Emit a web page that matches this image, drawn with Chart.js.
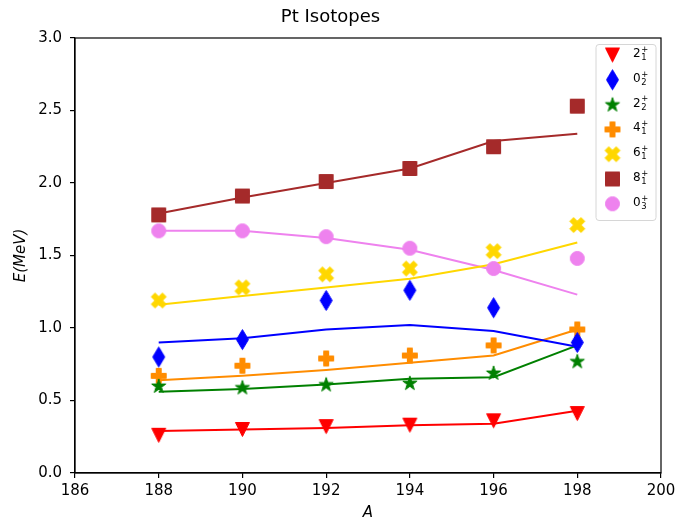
<!DOCTYPE html>
<html>
<head>
<meta charset="utf-8">
<script src="https://cdn.jsdelivr.net/npm/chart.js@4/dist/chart.umd.min.js"></script>
<style>
    body { margin: 0; background: #fff; }
    #wrap { width: 680px; height: 522px; }
</style>
</head>
<body>
<div id="wrap"><canvas id="ptChart" width="680" height="522"></canvas></div>
<script>

// Mass numbers of the Pt isotopes
var massNumbers = [188, 190, 192, 194, 196, 198];

// Experimental levels (markers), MeV
var exp21 = [0.26, 0.30, 0.32, 0.33, 0.36, 0.41];
var exp02 = [0.80, 0.92, 1.19, 1.26, 1.14, 0.90];
var exp22 = [0.60, 0.59, 0.61, 0.62, 0.69, 0.77];
var exp41 = [0.67, 0.74, 0.79, 0.81, 0.88, 0.99];
var exp61 = [1.19, 1.28, 1.37, 1.41, 1.53, 1.71];
var exp81 = [1.78, 1.91, 2.01, 2.10, 2.25, 2.53];
var exp03 = [1.67, 1.67, 1.63, 1.55, 1.41, 1.48];

// Calculated levels (lines), MeV
var calc21 = [0.29, 0.30, 0.31, 0.33, 0.34, 0.43];
var calc02 = [0.90, 0.93, 0.99, 1.02, 0.98, 0.87];
var calc22 = [0.56, 0.58, 0.61, 0.65, 0.66, 0.88];
var calc41 = [0.64, 0.67, 0.71, 0.76, 0.81, 0.99];
var calc61 = [1.16, 1.22, 1.28, 1.34, 1.44, 1.59];
var calc81 = [1.79, 1.90, 2.00, 2.10, 2.29, 2.34];
var calc03 = [1.67, 1.67, 1.62, 1.54, 1.40, 1.23];

// State labels: spin, index, parity
var stateSpins = ['2', '0', '2', '4', '6', '8', '0'];
var stateIndex = ['1', '2', '2', '1', '1', '1', '3'];
var stateParity = ['+', '+', '+', '+', '+', '+', '+'];

var xTicks = [186, 188, 190, 192, 194, 196, 198, 200];
var yTicks = [0.0, 0.5, 1.0, 1.5, 2.0, 2.5, 3.0];

var FONT = "'DejaVu Sans', sans-serif";

// Matplotlib-like filled markers drawn on small canvases
var makeMarker = function (shape, color, w, h) {
    var c = document.createElement('canvas');
    c.width = Math.ceil(w) + 2;
    c.height = Math.ceil(h) + 2;
    var ctx = c.getContext('2d');
    ctx.translate(c.width / 2, c.height / 2);
    ctx.fillStyle = color;
    ctx.strokeStyle = color;
    ctx.lineWidth = 1;
    ctx.lineJoin = 'miter';
    var rx = (w - 1) / 2, ry = (h - 1) / 2;
    var pts = [], i;
    ctx.beginPath();
    if (shape === 'circle') {
        ctx.arc(0, 0, rx, 0, Math.PI * 2);
    } else if (shape === 'square') {
        ctx.rect(-rx, -ry, 2 * rx, 2 * ry);
    } else {
        if (shape === 'triangleDown') {
            pts = [[-1, -1], [1, -1], [0, 1]];
        } else if (shape === 'thinDiamond') {
            pts = [[0, -1], [1, 0], [0, 1], [-1, 0]];
        } else if (shape === 'plusFilled') {
            pts = [[-1, -3], [1, -3], [1, -1], [3, -1], [3, 1], [1, 1], [1, 3], [-1, 3], [-1, 1], [-3, 1], [-3, -1], [-1, -1]];
            pts = pts.map(function (p) { return [p[0] / 3, p[1] / 3]; });
        } else if (shape === 'xFilled') {
            pts = [[-1, -2], [0, -1], [1, -2], [2, -1], [1, 0], [2, 1], [1, 2], [0, 1], [-1, 2], [-2, 1], [-1, 0], [-2, -1]];
            pts = pts.map(function (p) { return [p[0] / 2, p[1] / 2]; });
        } else if (shape === 'star') {
            for (i = 0; i < 10; i++) {
                var r = (i % 2 === 0) ? 1 : 0.381966;
                var a = -Math.PI / 2 + i * Math.PI / 5;
                pts.push([r * Math.cos(a), r * Math.sin(a) + 0.05]);
            }
        }
        pts.forEach(function (p, k) {
            if (k === 0) { ctx.moveTo(p[0] * rx, p[1] * ry); } else { ctx.lineTo(p[0] * rx, p[1] * ry); }
        });
        ctx.closePath();
    }
    ctx.fill();
    ctx.stroke();
    return c;
};

var colors = ['#ff0000', '#0000ff', '#008000', '#ff8c00', '#ffd700', '#a52a2a', '#ee82ee'];
var markers = [
    makeMarker('triangleDown', colors[0], 15, 15),
    makeMarker('thinDiamond', colors[1], 13, 21),
    makeMarker('star', colors[2], 16, 16),
    makeMarker('plusFilled', colors[3], 16, 16),
    makeMarker('xFilled', colors[4], 16, 16),
    makeMarker('square', colors[5], 15, 15),
    makeMarker('circle', colors[6], 15, 15)
];

var expSeries = [exp21, exp02, exp22, exp41, exp61, exp81, exp03];
var calcSeries = [calc21, calc02, calc22, calc41, calc61, calc81, calc03];

var toPoints = function (ys) {
    return massNumbers.map(function (a, i) { return {x: a, y: ys[i]}; });
};

var datasets = [];
expSeries.forEach(function (ys, i) {
    datasets.push({
        label: stateSpins[i] + '₁₂₃'.charAt(+stateIndex[i] - 1) + '⁺',
        data: toPoints(ys),
        showLine: false,
        pointStyle: markers[i],
        pointRadius: 8,
        pointHoverRadius: 8,
        backgroundColor: colors[i],
        borderColor: colors[i],
        order: 1
    });
});
calcSeries.forEach(function (ys, i) {
    datasets.push({
        label: 'calc ' + stateSpins[i],
        data: toPoints(ys),
        borderColor: colors[i],
        borderWidth: 2,
        pointRadius: 0,
        fill: false,
        tension: 0,
        order: 2
    });
});

// Full box around the plot area, like matplotlib spines
var framePlugin = {
    id: 'frame',
    afterDatasetsDraw: function (chart) {
        var a = chart.chartArea, ctx = chart.ctx;
        ctx.save();
        ctx.strokeStyle = '#000';
        ctx.lineWidth = 1.2;
        ctx.strokeRect(a.left, a.top, a.right - a.left, a.bottom - a.top);
        ctx.restore();
    }
};

// Legend in the upper right of the axes with stacked sub/superscripts
var insetLegend = {
    id: 'insetLegend',
    afterDraw: function (chart) {
        var ctx = chart.ctx;
        var a = chart.chartArea;
        var boxW = 60, boxH = 176;
        var bx = a.right - 5 - boxW, by = a.top + 6.5;
        ctx.save();
        ctx.beginPath();
        ctx.roundRect(bx, by, boxW, boxH, 3);
        ctx.fillStyle = 'rgba(255,255,255,0.8)';
        ctx.fill();
        ctx.strokeStyle = '#d6d6d6';
        ctx.lineWidth = 1;
        ctx.stroke();
        for (var i = 0; i < stateSpins.length; i++) {
            var rowY = by + 10.5 + i * 24.8;
            var mk = markers[i];
            ctx.drawImage(mk, bx + 16.5 - mk.width / 2, rowY - mk.height / 2);
            var tx = bx + 37;
            ctx.fillStyle = '#000';
            ctx.textAlign = 'left';
            ctx.textBaseline = 'alphabetic';
            ctx.font = '12px ' + FONT;
            ctx.fillText(stateSpins[i], tx, rowY + 2);
            var sx = tx + ctx.measureText(stateSpins[i]).width + 0.5;
            ctx.font = '8.4px ' + FONT;
            ctx.fillText(stateParity[i], sx, rowY - 3.2);
            ctx.fillText(stateIndex[i], sx, rowY + 5);
        }
        ctx.restore();
    }
};

var ctx = document.getElementById('ptChart').getContext('2d');
var ptChart = new Chart(ctx, {
    type: 'line',
    data: { datasets: datasets },
    options: {
        responsive: false,
        animation: false,
        events: [],
        layout: { padding: { left: 0, right: 19, top: 0, bottom: 0 } },
        plugins: {
            legend: { display: false },
            tooltip: { enabled: false },
            title: {
                display: true,
                text: 'Pt Isotopes',
                color: '#000',
                font: { family: FONT, size: 18, weight: 'normal', lineHeight: 1.2 },
                padding: { top: 7, bottom: 9.4 }
            }
        },
        scales: {
            x: {
                type: 'linear',
                min: 186,
                max: 200,
                afterFit: function (scale) { scale.height = 49; },
                afterBuildTicks: function (scale) {
                    scale.ticks = xTicks.map(function (v) { return {value: v}; });
                },
                ticks: {
                    color: '#000',
                    font: { family: FONT, size: 15 },
                    padding: 4,
                    maxRotation: 0,
                    callback: function (v) { return String(v); }
                },
                grid: { drawOnChartArea: false, drawTicks: true, tickLength: 5, color: '#000', lineWidth: 1.2 },
                border: { display: true, color: '#000', width: 1.2 },
                title: {
                    display: true,
                    text: 'A',
                    color: '#000',
                    font: { family: FONT, size: 15, style: 'italic', lineHeight: 1.2 },
                    padding: { top: 0, bottom: 0 }
                }
            },
            y: {
                type: 'linear',
                min: 0,
                max: 3,
                afterFit: function (scale) { scale.width = 75; },
                afterBuildTicks: function (scale) {
                    scale.ticks = yTicks.map(function (v) { return {value: v}; });
                },
                ticks: {
                    color: '#000',
                    font: { family: FONT, size: 15 },
                    padding: 8,
                    callback: function (v) { return v.toFixed(1); }
                },
                grid: { drawOnChartArea: false, drawTicks: true, tickLength: 5, color: '#000', lineWidth: 1.2 },
                border: { display: true, color: '#000', width: 1.2 },
                title: {
                    display: true,
                    text: 'E(MeV)',
                    color: '#000',
                    font: { family: FONT, size: 15, style: 'italic', lineHeight: 1.2 },
                    padding: { top: 12, bottom: 0 }
                }
            }
        }
    },
    plugins: [framePlugin, insetLegend]
});
</script>
</body>
</html>
